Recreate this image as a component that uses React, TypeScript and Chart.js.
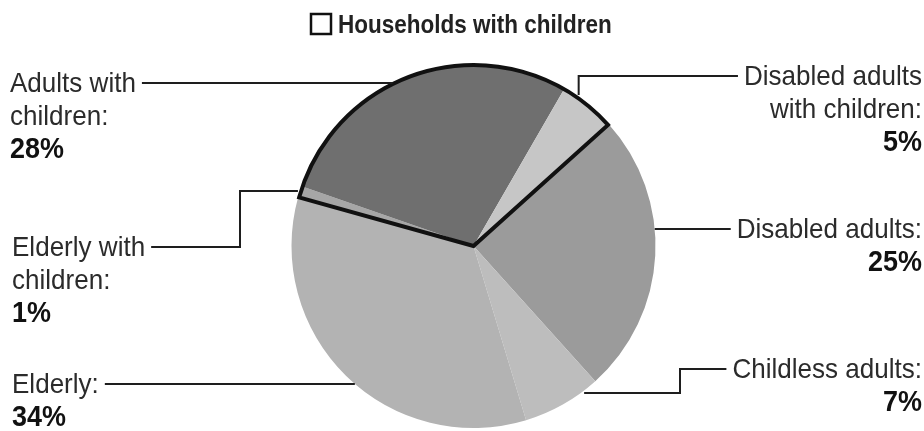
import { useEffect, useRef } from "react";
import { Chart, registerables } from "chart.js";

Chart.register(...registerables);

// ---- data ----
const categories = [
  "Elderly with children",
  "Adults with children",
  "Disabled adults with children",
  "Disabled adults",
  "Childless adults",
  "Elderly",
];
const shares = [1, 28, 5, 25, 7, 34];
const labelText = [
  ["Elderly with", "children:"],
  ["Adults with", "children:"],
  ["Disabled adults", "with children:"],
  ["Disabled adults:"],
  ["Childless adults:"],
  ["Elderly:"],
];
const legendTitle = "Households with children";
const childrenGroup = [0, 1, 2];

// ---- styles / layout ----
const sliceColors = ["#a6a6a6", "#6f6f6f", "#c6c6c6", "#9b9b9b", "#bdbdbd", "#b3b3b3"];
const FONT = '"Liberation Sans", Arial, sans-serif';
const TEXT_SCALE = 0.93;
const LINE_GAP = 33;

type LabelLayout = {
  side: "left" | "right";
  x: number;
  baseline: number;
  kind: "straight" | "elbow";
  frac?: number;
  elbowX?: number;
};

const labelLayout: LabelLayout[] = [
  { side: "left", x: 12, baseline: 256, kind: "elbow", frac: 0.5, elbowX: 240 },
  { side: "left", x: 10, baseline: 92, kind: "straight" },
  { side: "right", x: 922, baseline: 85, kind: "elbow", frac: 0.27 },
  { side: "right", x: 922, baseline: 238, kind: "straight" },
  { side: "right", x: 922, baseline: 378, kind: "elbow", frac: 0.2, elbowX: 680 },
  { side: "left", x: 12, baseline: 393, kind: "straight" },
];

function drawText(
  ctx: CanvasRenderingContext2D,
  text: string,
  x: number,
  y: number,
  align: "left" | "right",
  font: string,
  color: string,
  scale: number
) {
  ctx.save();
  ctx.font = font;
  ctx.fillStyle = color;
  ctx.textAlign = align;
  ctx.textBaseline = "alphabetic";
  ctx.translate(x, y);
  ctx.scale(scale, 1);
  ctx.fillText(text, 0, 0);
  ctx.restore();
}

const annotatePlugin = {
  id: "annotatePie",
  afterDraw(chart: any) {
    const ctx: CanvasRenderingContext2D = chart.ctx;
    const meta = chart.getDatasetMeta(0);
    const arcs = meta.data;
    if (!arcs.length) return;
    const a0 = arcs[0].getProps(["x", "y", "outerRadius"], true);
    const cx = a0.x;
    const cy = a0.y;
    const r = a0.outerRadius;

    // outline of households with children
    const first = arcs[childrenGroup[0]].getProps(["startAngle"], true);
    const last = arcs[childrenGroup[childrenGroup.length - 1]].getProps(["endAngle"], true);
    ctx.save();
    ctx.strokeStyle = "#111";
    ctx.lineWidth = 4;
    ctx.lineJoin = "miter";
    ctx.beginPath();
    ctx.moveTo(cx, cy);
    ctx.arc(cx, cy, r - 1, first.startAngle, last.endAngle);
    ctx.closePath();
    ctx.stroke();
    ctx.restore();

    // legend title
    ctx.save();
    ctx.strokeStyle = "#111";
    ctx.lineWidth = 2.5;
    ctx.strokeRect(311, 14, 20, 20);
    ctx.restore();
    drawText(ctx, legendTitle, 338, 33, "left", `bold 25px ${FONT}`, "#222", 0.9);

    // labels
    const regFont = `28px ${FONT}`;
    const boldFont = `bold 29px ${FONT}`;
    categories.forEach((_, i) => {
      const lay = labelLayout[i];
      const lines = labelText[i];
      lines.forEach((t, k) => {
        drawText(ctx, t, lay.x, lay.baseline + k * LINE_GAP, lay.side, regFont, "#2b2b2b", TEXT_SCALE);
      });
      drawText(
        ctx,
        `${shares[i]}%`,
        lay.x,
        lay.baseline + lines.length * LINE_GAP,
        lay.side,
        boldFont,
        "#111",
        TEXT_SCALE
      );

      ctx.save();
      ctx.font = regFont;
      const w = ctx.measureText(lines[0]).width * TEXT_SCALE;
      ctx.restore();
      const lineY = lay.baseline - 9;
      const textEnd = lay.side === "left" ? lay.x + w + 6 : lay.x - w - 6;

      ctx.save();
      ctx.strokeStyle = "#1e1e1e";
      ctx.lineWidth = 2;
      ctx.beginPath();
      if (lay.kind === "straight") {
        const dy = lineY - cy;
        const dx = Math.sqrt(Math.max(0, r * r - dy * dy));
        const ex = lay.side === "left" ? cx - dx : cx + dx;
        ctx.moveTo(textEnd, lineY);
        ctx.lineTo(ex, lineY);
      } else {
        const p = arcs[i].getProps(["startAngle", "endAngle"], true);
        const ang = p.startAngle + (lay.frac ?? 0.5) * (p.endAngle - p.startAngle);
        const ax = cx + (r + 2) * Math.cos(ang);
        const ay = cy + (r + 2) * Math.sin(ang);
        const ex = lay.elbowX ?? ax;
        ctx.moveTo(ax, ay);
        ctx.lineTo(ex, ay);
        ctx.lineTo(ex, lineY);
        ctx.lineTo(textEnd, lineY);
      }
      ctx.stroke();
      ctx.restore();
    });
  },
};

export default function App() {
  const canvasRef = useRef<HTMLCanvasElement | null>(null);

  useEffect(() => {
    if (!canvasRef.current) return;
    const chart = new Chart(canvasRef.current, {
      type: "pie",
      data: {
        labels: categories,
        datasets: [
          {
            data: shares,
            backgroundColor: sliceColors,
            borderWidth: 0,
          },
        ],
      },
      options: {
        responsive: true,
        maintainAspectRatio: false,
        animation: false,
        rotation: -74.4,
        layout: { padding: { top: 64, bottom: 3, left: 200, right: 177 } },
        plugins: {
          legend: { display: false },
          tooltip: { enabled: false },
          title: { display: false },
        },
      },
      plugins: [annotatePlugin],
    });
    return () => chart.destroy();
  }, []);

  return (
    <div style={{ position: "absolute", left: 0, top: 0, width: 924, height: 431, background: "#fff" }}>
      <canvas ref={canvasRef} />
    </div>
  );
}
